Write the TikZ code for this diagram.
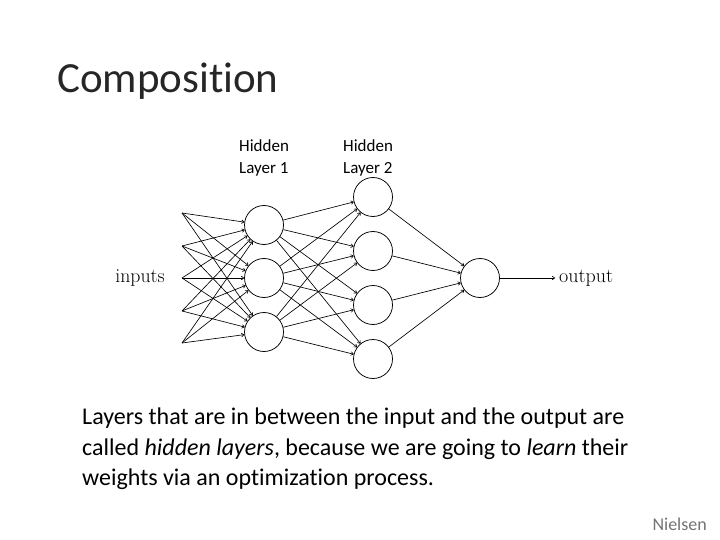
\documentclass[tikz,border=0pt]{standalone}
\usepackage{fontspec}
\setmainfont{Carlito}[Ligatures={NoCommon}]
\newfontfamily\lmfont{Latin Modern Roman}
\usetikzlibrary{arrows.meta}
\begin{document}
\begin{tikzpicture}[x=1pt,y=-1pt,
  neuron/.style={circle,draw,line width=0.75pt,minimum size=39pt,inner sep=0pt},
  conn/.style={line width=0.65pt,-{To[length=3pt,width=4pt]}},
  lbl/.style={font=\fontsize{17}{22}\selectfont,align=left,anchor=north west,inner sep=0pt}]
\useasboundingbox (0,0) rectangle (720,540);
\node[anchor=west,inner sep=0pt,font=\fontsize{43}{50}\selectfont\color{black!85}] (title) at (57,81) {Composition};
\node[lbl] (h1) at (239,139) {Hidden\\Layer 1};
\node[lbl] (h2) at (343,139) {Hidden\\Layer 2};
% inputs
\foreach \i/\y in {1/213,2/246,3/278,4/311,5/343} \coordinate (i\i) at (182,\y);
\foreach \j/\y in {1/225,2/278,3/332} \node[neuron] (a\j) at (264,\y) {};
\foreach \k/\y in {1/197,2/251,3/305,4/359} \node[neuron] (b\k) at (373,\y) {};
\node[neuron] (o) at (480,278) {};
\foreach \i in {1,...,5} \foreach \j in {1,2,3} \draw[conn] (i\i) -- (a\j);
\foreach \j in {1,2,3} \foreach \k in {1,...,4} \draw[conn] (a\j) -- (b\k);
\foreach \k in {1,...,4} \draw[conn] (b\k) -- (o);
\coordinate (oe) at (555,278);
\draw[conn] (o) -- (oe);
\node[anchor=east,inner sep=0pt,font=\lmfont\fontsize{19.8}{22}\selectfont] (in) at (165,278) {inputs};
\node[anchor=west,inner sep=0pt,font=\lmfont\fontsize{20}{22}\selectfont] (out) at (559,278) {output};
\node[anchor=north west,inner sep=0pt,align=left,font=\fontsize{24}{30.5}\selectfont] (body) at (82,408)
 {Layers that are in between the input and the output are\\called \textit{hidden layers}, because we are going to \textit{learn} their\\weights via an optimization process.};
\node[anchor=east,inner sep=0pt,font=\fontsize{18}{20}\selectfont\color{black!55}] (cite) at (707,524) {Nielsen};
\end{tikzpicture}
\end{document}
